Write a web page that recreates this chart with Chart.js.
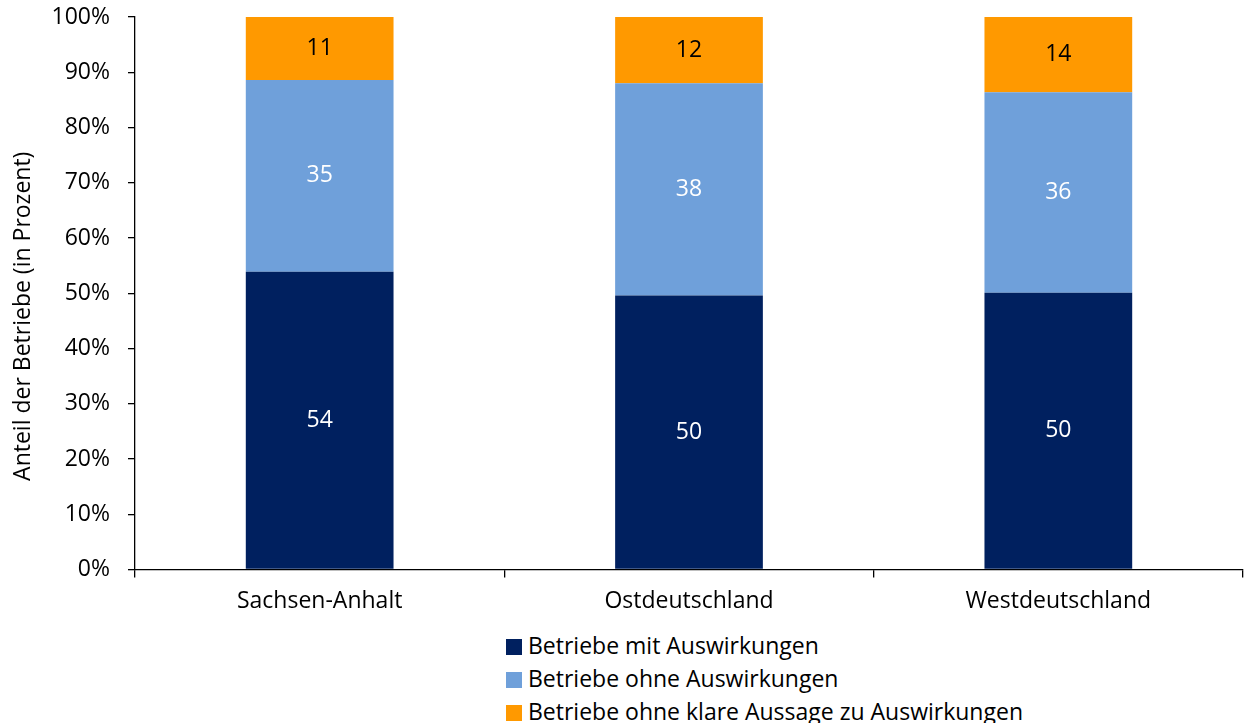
<!DOCTYPE html>
<html lang="de">
<head>
<meta charset="utf-8">
<script src="https://cdn.jsdelivr.net/npm/chart.js@4"></script>
<style>
  html, body { margin: 0; padding: 0; background: #fff; }
  #wrap { position: relative; width: 1244px; height: 723px; }
  #chart { position: absolute; left: 0; top: 0; }
  #legend { position: absolute; left: 506px; top: 629px; font-family: "Open Sans", sans-serif; font-size: 23px; color: #000; }
  #legend div { height: 33px; line-height: 33px; white-space: nowrap; }
  #legend span.box { display: inline-block; width: 16px; height: 16px; margin-right: 6px; vertical-align: -1px; }
</style>
</head>
<body>
<div id="wrap">
  <canvas id="chart" width="1244" height="625"></canvas>
  <div id="legend"></div>
</div>
<script>
// Daten
const categories = ['Sachsen-Anhalt', 'Ostdeutschland', 'Westdeutschland'];
const mitAuswirkungen = [53.9, 49.6, 50.1];
const ohneAuswirkungen = [34.7, 38.4, 36.3];
const ohneAussage = [11.4, 12.0, 13.6];
const seriesNames = ['Betriebe mit Auswirkungen', 'Betriebe ohne Auswirkungen', 'Betriebe ohne klare Aussage zu Auswirkungen'];
const yTicks = [0, 10, 20, 30, 40, 50, 60, 70, 80, 90, 100];
const yTitle = 'Anteil der Betriebe (in Prozent)';

const colors = ['#00205F', '#6FA0DA', '#FF9900'];
const labelColors = ['#ffffff', '#ffffff', '#000000'];
const font = 'Open Sans';
const fontSize = 23;

// Werte mittig in die Balken schreiben
const barLabels = {
    id: 'barLabels',
    afterDatasetsDraw(chart) {
        const ctx = chart.ctx;
        ctx.save();
        ctx.font = fontSize + 'px "' + font + '"';
        ctx.textAlign = 'center';
        ctx.textBaseline = 'middle';
        chart.data.datasets.forEach((ds, i) => {
            const meta = chart.getDatasetMeta(i);
            meta.data.forEach((bar, j) => {
                ctx.fillStyle = labelColors[i];
                ctx.fillText(Math.round(ds.data[j]), bar.x, (bar.y + bar.base) / 2);
            });
        });
        ctx.restore();
    }
};

// Achsentitel links, etwas unterhalb der Mitte wie im Original
const axisTitle = {
    id: 'axisTitle',
    afterDraw(chart) {
        const ctx = chart.ctx;
        const area = chart.chartArea;
        ctx.save();
        ctx.translate(23, (area.top + area.bottom) / 2 + 23);
        ctx.rotate(-Math.PI / 2);
        ctx.font = fontSize + 'px "' + font + '"';
        ctx.fillStyle = '#000';
        ctx.textAlign = 'center';
        ctx.textBaseline = 'middle';
        ctx.fillText(yTitle, 0, 0);
        ctx.restore();
    }
};

const ctx = document.getElementById('chart').getContext('2d');
const chart = new Chart(ctx, {
    type: 'bar',
    data: {
        labels: categories,
        datasets: [mitAuswirkungen, ohneAuswirkungen, ohneAussage].map((d, i) => ({
            label: seriesNames[i],
            data: d,
            backgroundColor: colors[i],
            borderWidth: 0,
            barPercentage: 0.4,
            categoryPercentage: 1
        }))
    },
    options: {
        responsive: false,
        animation: false,
        layout: { padding: { top: 17, right: 1, left: 0, bottom: 0 } },
        plugins: {
            legend: { display: false },
            tooltip: { enabled: false }
        },
        scales: {
            x: {
                stacked: true,
                afterFit: s => { s.height = 55.5; s.paddingLeft = 0; s.paddingRight = 0; },
                grid: { offset: true, drawOnChartArea: false, drawTicks: true, tickLength: 8, color: '#000', lineWidth: 1.3 },
                border: { color: '#000', width: 1.3 },
                ticks: { color: '#000', font: { family: font, size: fontSize }, padding: 10 }
            },
            y: {
                stacked: true,
                min: 0,
                max: 100,
                afterFit: s => { s.width = 135; s.paddingTop = 0; s.paddingBottom = 0; },
                afterBuildTicks: s => { s.ticks = yTicks.map(v => ({ value: v })); },
                grid: { drawOnChartArea: false, drawTicks: true, tickLength: 7, color: '#000', lineWidth: 1.3 },
                border: { color: '#000', width: 1.3 },
                ticks: { color: '#000', font: { family: font, size: fontSize }, padding: 18, callback: v => v + '%' }
            }
        }
    },
    plugins: [barLabels, axisTitle]
});

// Legende untereinander
const legend = document.getElementById('legend');
chart.data.datasets.forEach(ds => {
    const row = document.createElement('div');
    row.innerHTML = '<span class="box" style="background:' + ds.backgroundColor + '"></span>' + ds.label;
    legend.appendChild(row);
});
</script>
</body>
</html>
